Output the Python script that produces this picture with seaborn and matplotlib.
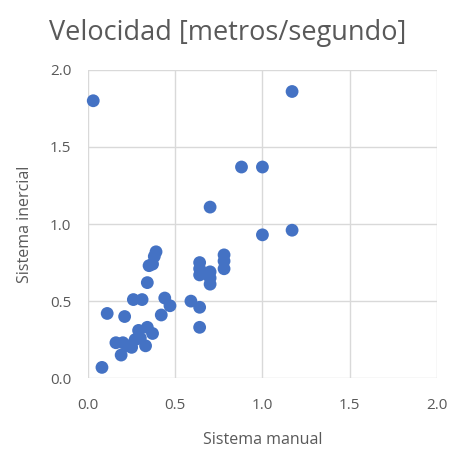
import matplotlib
matplotlib.use("Agg")
import matplotlib.pyplot as plt
import seaborn as sns
import pandas as pd

# Velocity measured by both systems (m/s)
sistema_manual = [
    0.03, 1.17, 0.88, 1.00, 0.70, 1.00, 1.17, 0.78, 0.78, 0.78,
    0.64, 0.64, 0.64, 0.70, 0.70, 0.70, 0.59, 0.64, 0.64, 0.44,
    0.47, 0.42, 0.39, 0.38, 0.37, 0.35, 0.34, 0.26, 0.31, 0.11,
    0.21, 0.29, 0.34, 0.37, 0.30, 0.33, 0.16, 0.20, 0.23, 0.19,
    0.25, 0.27, 0.08,
]
sistema_inercial = [
    1.80, 1.86, 1.37, 1.37, 1.11, 0.93, 0.96, 0.80, 0.76, 0.71,
    0.75, 0.71, 0.67, 0.69, 0.65, 0.61, 0.50, 0.46, 0.33, 0.52,
    0.47, 0.41, 0.82, 0.79, 0.74, 0.73, 0.62, 0.51, 0.51, 0.42,
    0.40, 0.31, 0.33, 0.29, 0.26, 0.21, 0.23, 0.23, 0.21, 0.15,
    0.20, 0.25, 0.07,
]
ticks = [0.0, 0.5, 1.0, 1.5, 2.0]
tick_labels = ["0.0", "0.5", "1.0", "1.5", "2.0"]

df = pd.DataFrame({"Sistema manual": sistema_manual,
                   "Sistema inercial": sistema_inercial})

sns.set_style("whitegrid", {"grid.color": "#D9D9D9", "axes.edgecolor": "#D9D9D9"})
plt.rcParams["font.family"] = ["Open Sans", "DejaVu Sans"]

text_color = "#595959"
fig = plt.figure(figsize=(4.56, 4.54), dpi=100)
ax = fig.add_axes([0.193, 0.167, 0.765, 0.679])

sns.scatterplot(data=df, x="Sistema manual", y="Sistema inercial", ax=ax,
                color="#4472C4", s=85, edgecolor="none", linewidth=0,
                clip_on=False, zorder=3)

ax.set_xlim(0, 2)
ax.set_ylim(0, 2)
ax.set_xticks(ticks)
ax.set_xticklabels(tick_labels)
ax.set_yticks(ticks)
ax.set_yticklabels(tick_labels)
for s in ax.spines.values():
    s.set_visible(False)
ax.grid(True, color="#D9D9D9", linewidth=1.0)
ax.tick_params(axis="both", length=0, labelsize=11, labelcolor=text_color)
ax.tick_params(axis="x", pad=14)
ax.tick_params(axis="y", pad=12)
ax.set_xlabel("Sistema manual", fontsize=11.5, color=text_color, labelpad=14)
ax.set_ylabel("Sistema inercial", fontsize=11.5, color=text_color, labelpad=12)
fig.suptitle("Velocidad [metros/segundo]", fontsize=19.5, color=text_color,
             x=0.5, y=0.958)

fig.savefig("out.png", dpi=100)
